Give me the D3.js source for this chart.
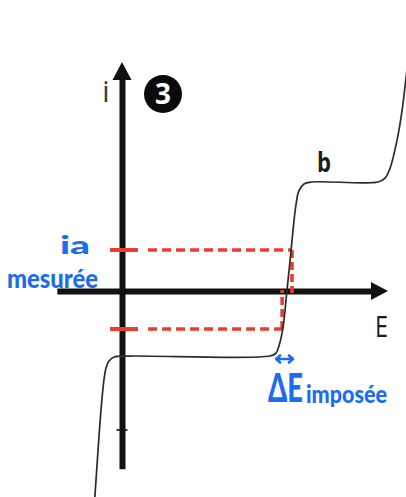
<!DOCTYPE html>
<html>
<head>
<meta charset="utf-8">
<script src="https://cdn.jsdelivr.net/npm/d3@7"></script>
<style>
  html, body { margin: 0; padding: 0; background: #fff; }
  svg { display: block; }
</style>
</head>
<body>
<script>
// Intensity-potential curve: potential E (axis units) and current i (axis units)
const curveE = [-0.102, -0.090, -0.079, -0.068, -0.060, -0.049, -0.030, 0.030, 0.556, 0.579, 0.590, 0.605, 0.620, 0.632, 0.643, 0.654, 0.665, 0.684, 0.714, 0.962, 0.989, 1.008, 1.034, 1.053, 1.075];
const curveI = [-0.900, -0.694, -0.520, -0.389, -0.336, -0.306, -0.288, -0.284, -0.284, -0.271, -0.240, -0.162, 0.000, 0.135, 0.266, 0.376, 0.437, 0.467, 0.476, 0.476, 0.493, 0.537, 0.659, 0.790, 1.009];

// Measured currents and the potentials where they meet the curve
const measuredI = [0.179, -0.166];
const imposedE = [0.639, 0.602];

// Axis extents (axis units)
const axisEExtent = [-0.245, 1.0];
const axisIExtent = [-0.776, 1.0];
const axisTickI = [-0.607];

const axisLabels = { x: "E", y: "i" };
const curveName = "b";
const badgeText = "3";
const noteMeasured = ["ia", "mesurée"];
const noteImposed = ["ΔE", "imposée"];

const W = 406, H = 497;
const svg = d3.select("body").append("svg").attr("width", W).attr("height", H);

const x = d3.scaleLinear().domain([0, 1]).range([122, 388]);
const y = d3.scaleLinear().domain([0, 1]).range([291, 62]);

const RED = "#ec3d2c", BLUE = "#1c6cf0", INK = "#111";

// --- Axes (no ticks, thick lines with arrowheads) ---
const xAxisScale = x.copy().domain([axisEExtent[0], axisEExtent[1] - 0.05])
  .range([x(axisEExtent[0]), x(axisEExtent[1] - 0.05)]);
const gx = svg.append("g").attr("transform", `translate(0,${y(0)})`)
  .call(d3.axisBottom(xAxisScale).tickValues([]).tickSizeOuter(0));
gx.select(".domain").attr("stroke", INK).attr("stroke-width", 6);

const yAxisScale = y.copy().domain([axisIExtent[0], axisIExtent[1] - 0.06])
  .range([y(axisIExtent[0]), y(axisIExtent[1] - 0.06)]);
const gy = svg.append("g").attr("transform", `translate(${x(0)},0)`)
  .call(d3.axisLeft(yAxisScale).tickValues([]).tickSizeOuter(0));
gy.select(".domain").attr("stroke", INK).attr("stroke-width", 6);

// arrowheads
const ex = x(axisEExtent[1]), ey = y(0);
svg.append("path")
  .attr("d", `M${ex},${ey} L${ex - 17},${ey - 9} L${ex - 17},${ey + 9} Z`)
  .attr("fill", INK);
const ix = x(0), iy = y(axisIExtent[1]);
svg.append("path")
  .attr("d", `M${ix},${iy} L${ix - 9.5},${iy + 18} L${ix + 9.5},${iy + 18} Z`)
  .attr("fill", INK);

// small tick mark on the current axis
svg.selectAll(".itick").data(axisTickI).enter().append("line")
  .attr("x1", x(0) - 5.5).attr("x2", x(0) + 5.5)
  .attr("y1", d => y(d)).attr("y2", d => y(d))
  .attr("stroke", INK).attr("stroke-width", 1.6);

// --- Red construction lines for the measured currents ---
measuredI.forEach((iv, k) => {
  const yy = y(iv);
  svg.append("line")
    .attr("x1", x(-0.045)).attr("x2", x(0.06))
    .attr("y1", yy).attr("y2", yy)
    .attr("stroke", RED).attr("stroke-width", 4);
  svg.append("line")
    .attr("x1", x(0.098)).attr("x2", x(imposedE[k]))
    .attr("y1", yy).attr("y2", yy)
    .attr("stroke", RED).attr("stroke-width", 3.6)
    .attr("stroke-dasharray", "9,5");
  svg.append("line")
    .attr("x1", x(imposedE[k])).attr("x2", x(imposedE[k]))
    .attr("y1", yy).attr("y2", y(0) + (iv > 0 ? 2 : -1))
    .attr("stroke", RED).attr("stroke-width", 3.6)
    .attr("stroke-dasharray", "8,4");
});

// --- Curve ---
const pts = curveE.map((e, k) => [e, curveI[k]]);
svg.append("path")
  .datum(pts)
  .attr("d", d3.line().x(d => x(d[0])).y(d => y(d[1])).curve(d3.curveCatmullRom.alpha(0.5)))
  .attr("fill", "none").attr("stroke", "#2b2b2b").attr("stroke-width", 1.7);

// --- Labels ---
svg.append("text").text(axisLabels.y)
  .attr("x", 106).attr("y", 102)
  .attr("text-anchor", "middle")
  .attr("font-family", "'Open Sans', sans-serif").attr("font-size", 29)
  .attr("fill", "#3a3a3a");

svg.append("text").text(axisLabels.x)
  .attr("x", 375).attr("y", 337)
  .attr("textLength", 13).attr("lengthAdjust", "spacingAndGlyphs")
  .attr("font-family", "'Open Sans', sans-serif").attr("font-size", 30)
  .attr("fill", "#1a1a1a");

svg.append("text").text(curveName)
  .attr("x", 317).attr("y", 172)
  .attr("textLength", 14).attr("lengthAdjust", "spacingAndGlyphs")
  .attr("font-family", "'Open Sans', sans-serif").attr("font-weight", 700).attr("font-size", 26)
  .attr("fill", "#1a1a1a");

// numbered badge
svg.append("circle").attr("cx", 163).attr("cy", 94).attr("r", 19).attr("fill", "#0a0a0a");
svg.append("text").text(badgeText)
  .attr("x", 163).attr("y", 104)
  .attr("text-anchor", "middle")
  .attr("font-family", "'Open Sans', sans-serif").attr("font-weight", 700).attr("font-size", 28)
  .attr("fill", "#fff");

// blue annotations
const hand = "Lato, 'Open Sans', sans-serif";
svg.append("text").text(noteMeasured[0])
  .attr("x", 60).attr("y", 254)
  .attr("textLength", 30).attr("lengthAdjust", "spacingAndGlyphs")
  .attr("font-family", hand).attr("font-weight", 900).attr("font-size", 24)
  .attr("fill", BLUE);
svg.append("text").text(noteMeasured[1])
  .attr("x", 7).attr("y", 288)
  .attr("textLength", 91).attr("lengthAdjust", "spacingAndGlyphs")
  .attr("font-family", hand).attr("font-weight", 900).attr("font-size", 27)
  .attr("fill", BLUE);

// "ΔE": large condensed capitals, squeezed horizontally
svg.append("text").text(noteImposed[0])
  .attr("transform", "translate(268,402) scale(0.7,1)")
  .attr("font-family", hand).attr("font-weight", 900).attr("font-size", 39)
  .attr("fill", BLUE);
svg.append("text").text(noteImposed[1])
  .attr("x", 306).attr("y", 403)
  .attr("textLength", 81).attr("lengthAdjust", "spacingAndGlyphs")
  .attr("font-family", hand).attr("font-weight", 900).attr("font-size", 25)
  .attr("fill", BLUE);

// double-headed arrow marking the potential gap
const ax0 = x(imposedE[1]) - 6, ax1 = x(imposedE[0]) + 1, ay = 359;
svg.append("path")
  .attr("d", `M${ax0},${ay} L${ax1},${ay} M${ax0 + 4},${ay - 3.5} L${ax0},${ay} L${ax0 + 4},${ay + 3.5} M${ax1 - 4},${ay - 3.5} L${ax1},${ay} L${ax1 - 4},${ay + 3.5}`)
  .attr("fill", "none").attr("stroke", BLUE).attr("stroke-width", 2.6)
  .attr("stroke-linecap", "round").attr("stroke-linejoin", "round");
</script>
</body>
</html>
